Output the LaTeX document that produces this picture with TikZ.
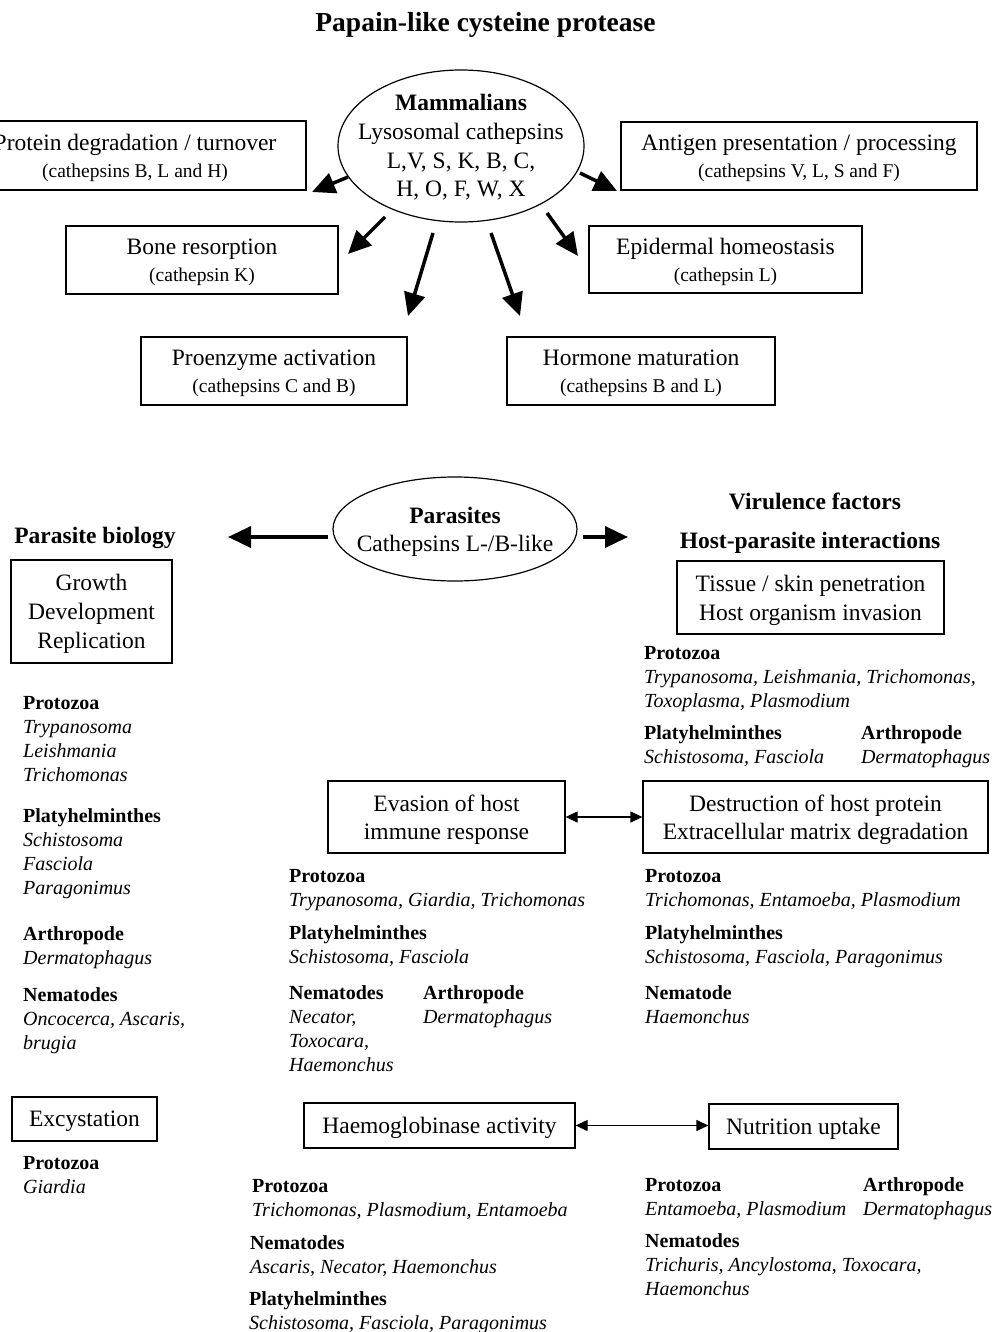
\documentclass[tikz,border=0pt]{standalone}
\usepackage{fontspec}
\setmainfont{Liberation Serif}
\usetikzlibrary{shapes.geometric,arrows.meta}
\newcommand\sbt[1]{{\fontsize{19.5}{23}\selectfont #1}}
\begin{document}
\begin{tikzpicture}[x=1pt,y=-1pt,
  rectb/.style={draw, line width=1.3pt, inner sep=0pt},
  txt/.style={inner sep=0pt, align=center, font=\fontsize{23.5}{27}\selectfont},
  txtw/.style={txt, font=\fontsize{23.5}{29}\selectfont},
  ell/.style={draw, ellipse, line width=1.2pt, inner sep=0pt},
  head/.style={inner sep=0pt, font=\bfseries\fontsize{23.5}{27}\selectfont},
  lst/.style={anchor=north west, inner sep=0pt, align=left, font=\fontsize{20}{24}\selectfont},
  thk/.style={line width=3.5pt, -{Triangle[length=23pt,width=21pt]}},
  dbl/.style={line width=1.3pt, {Triangle[length=12pt,width=11pt]}-{Triangle[length=12pt,width=11pt]}}
]
\useasboundingbox (0,0) rectangle (992,1332);
\clip (0,0) rectangle (992,1332);

% title
\node[inner sep=0pt, font=\bfseries\fontsize{27.5}{30}\selectfont] (title) at (485.5,24.5) {Papain-like cysteine protease};

% mammalian part
\node[ell, minimum width=246pt, minimum height=152pt] (mam) at (461,146) {};
\node[txt, font=\fontsize{23.5}{28.7}\selectfont] (mamt) at ([yshift=-1.5pt]mam.center)
  {\textbf{Mammalians}\\Lysosomal cathepsins\\L,V, S, K, B, C,\\H, O, F, W, X};

\node[rectb, minimum width=342pt, minimum height=69pt] (prot) at (135,155.5) {};
\node[txt] (prott) at ([yshift=-2.5pt]prot.center) {Protein degradation / turnover\\\sbt{(cathepsins B, L and H)}};
\node[rectb, minimum width=356pt, minimum height=68pt] (anti) at (799,156) {};
\node[txt] (antit) at ([yshift=-2.5pt]anti.center) {Antigen presentation / processing\\\sbt{(cathepsins V, L, S and F)}};
\node[rectb, minimum width=272pt, minimum height=68pt] (bone) at (202,260) {};
\node[txt] (bonet) at ([yshift=-2.5pt]bone.center) {Bone resorption\\\sbt{(cathepsin K)}};
\node[rectb, minimum width=273pt, minimum height=67pt] (epid) at (725.5,259.5) {};
\node[txt] (epidt) at ([yshift=-2.5pt]epid.center) {Epidermal homeostasis\\\sbt{(cathepsin L)}};
\node[rectb, minimum width=266pt, minimum height=68pt] (proe) at (274,371) {};
\node[txt] (proet) at ([yshift=-2.5pt]proe.center) {Proenzyme activation\\\sbt{(cathepsins C and B)}};
\node[rectb, minimum width=268pt, minimum height=68pt] (horm) at (641,371) {};
\node[txt] (hormt) at ([yshift=-2.5pt]horm.center) {Hormone maturation\\\sbt{(cathepsins B and L)}};

\coordinate (m1) at (348,177); \coordinate (t1) at (312,192);
\coordinate (m2) at (385,217); \coordinate (t2) at (348,254);
\coordinate (m3) at (433,233); \coordinate (t3) at (408,316);
\coordinate (m4) at (491,233); \coordinate (t4) at (520,316);
\coordinate (m5) at (547,213); \coordinate (t5) at (578,256);
\coordinate (m6) at (580,173); \coordinate (t6) at (617,191);
\draw[thk] (m1) -- (t1);
\draw[thk] (m2) -- (t2);
\draw[thk] (m3) -- (t3);
\draw[thk] (m4) -- (t4);
\draw[thk] (m5) -- (t5);
\draw[thk] (m6) -- (t6);

% parasite part
\node[ell, minimum width=244pt, minimum height=104pt] (par) at (455,529) {};
\node[txt, font=\fontsize{23.5}{28}\selectfont] (part) at ([yshift=-2.5pt]par.center)
  {\textbf{Parasites}\\Cathepsins L-/B-like};
\coordinate (pl1) at (328,537); \coordinate (pl2) at (228,537);
\coordinate (pr1) at (583,537); \coordinate (pr2) at (628,537);
\draw[thk] (pl1) -- (pl2);
\draw[thk] (pr1) -- (pr2);

\node[head] (pbio) at (95,537.5) {Parasite biology};
\node[head] (vir) at (815,501.5) {Virulence factors};
\node[head] (hpi) at (810,542.5) {Host-parasite interactions};

\node[rectb, minimum width=161pt, minimum height=103pt] (grow) at (91.5,611.5) {};
\node[txtw] (growt) at ([yshift=-2.5pt]grow.center) {Growth\\Development\\Replication};
\node[rectb, minimum width=267pt, minimum height=73pt] (tiss) at (810.5,597.5) {};
\node[txtw] (tisst) at ([yshift=-2.5pt]tiss.center) {Tissue / skin penetration\\Host organism invasion};
\node[rectb, minimum width=237pt, minimum height=72pt] (evas) at (446.5,817) {};
\node[txt, font=\fontsize{23.5}{28}\selectfont] (evast) at ([yshift=-2.5pt]evas.center) {Evasion of host\\immune response};
\node[rectb, minimum width=345pt, minimum height=72pt] (dest) at (815.5,817) {};
\node[txt, font=\fontsize{23.5}{28}\selectfont] (destt) at ([yshift=-2.5pt]dest.center) {Destruction of host protein\\Extracellular matrix degradation};
\node[rectb, minimum width=145pt, minimum height=44pt] (excy) at (84.5,1119) {};
\node[txt] (excyt) at ([yshift=-2pt]excy.center) {Excystation};
\node[rectb, minimum width=271pt, minimum height=45pt] (haem) at (439.5,1125.5) {};
\node[txt] (haemt) at ([yshift=-2pt]haem.center) {Haemoglobinase activity};
\node[rectb, minimum width=189pt, minimum height=45pt] (nutr) at (803.5,1126.5) {};
\node[txt] (nutrt) at ([yshift=-2pt]nutr.center) {Nutrition uptake};

\draw[dbl] (evas.east) -- (dest.west);
\draw[dbl] (haem.east) -- (haem.east -| nutr.west);

% left column lists
\node[lst] (l1) at (23,692) {\strut\textbf{Protozoa}\\\textit{Trypanosoma}\\\textit{Leishmania}\\\textit{Trichomonas}};
\node[lst] (l2) at (23,805) {\strut\textbf{Platyhelminthes}\\\textit{Schistosoma}\\\textit{Fasciola}\\\textit{Paragonimus}};
\node[lst] (l3) at (23,923) {\strut\textbf{Arthropode}\\\textit{Dermatophagus}};
\node[lst] (l4) at (23,984) {\strut\textbf{Nematodes}\\\textit{Oncocerca, Ascaris,}\\\textit{brugia}};
\node[lst] (l5) at (23,1152) {\strut\textbf{Protozoa}\\\textit{Giardia}};

% tissue lists
\node[lst] (t1l) at (644,642) {\strut\textbf{Protozoa}\\\textit{Trypanosoma, Leishmania, Trichomonas,}\\\textit{Toxoplasma, Plasmodium}};
\node[lst] (t2l) at (644,722) {\strut\textbf{Platyhelminthes}\\\textit{Schistosoma, Fasciola}};
\node[lst] (t3l) at (861,722) {\strut\textbf{Arthropode}\\\textit{Dermatophagus}};

% evasion lists
\node[lst] (e1) at (289,865) {\strut\textbf{Protozoa}\\\textit{Trypanosoma, Giardia, Trichomonas}};
\node[lst] (e2) at (289,922) {\strut\textbf{Platyhelminthes}\\\textit{Schistosoma, Fasciola}};
\node[lst] (e3) at (289,982) {\strut\textbf{Nematodes}\\\textit{Necator,}\\\textit{Toxocara,}\\\textit{Haemonchus}};
\node[lst] (e4) at (423,982) {\strut\textbf{Arthropode}\\\textit{Dermatophagus}};

% destruction lists
\node[lst] (d1) at (645,865) {\strut\textbf{Protozoa}\\\textit{Trichomonas, Entamoeba, Plasmodium}};
\node[lst] (d2) at (645,922) {\strut\textbf{Platyhelminthes}\\\textit{Schistosoma, Fasciola, Paragonimus}};
\node[lst] (d3) at (645,982) {\strut\textbf{Nematode}\\\textit{Haemonchus}};

% haemoglobinase lists
\node[lst] (h1) at (252,1175) {\strut\textbf{Protozoa}\\\textit{Trichomonas, Plasmodium, Entamoeba}};
\node[lst] (h2) at (250,1232) {\strut\textbf{Nematodes}\\\textit{Ascaris, Necator, Haemonchus}};
\node[lst] (h3) at (249,1288) {\strut\textbf{Platyhelminthes}\\\textit{Schistosoma, Fasciola, Paragonimus}};

% nutrition lists
\node[lst] (n1) at (645,1174) {\strut\textbf{Protozoa}\\\textit{Entamoeba, Plasmodium}};
\node[lst] (n2) at (863,1174) {\strut\textbf{Arthropode}\\\textit{Dermatophagus}};
\node[lst] (n3) at (645,1230) {\strut\textbf{Nematodes}\\\textit{Trichuris, Ancylostoma, Toxocara,}\\\textit{Haemonchus}};
\end{tikzpicture}
\end{document}
